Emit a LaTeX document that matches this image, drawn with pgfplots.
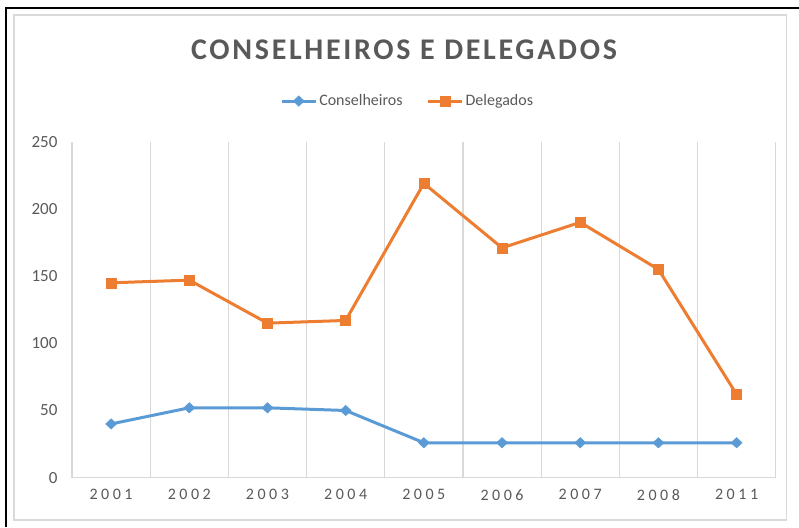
\documentclass[border=0pt]{standalone}
\usepackage{fontspec}
\setmainfont{Carlito}
\newfontfamily\titlefont[LetterSpace=9]{Carlito}
\newfontfamily\tickfont[LetterSpace=22]{Carlito}
\usepackage{pgfplots}
\pgfplotsset{compat=1.18}

\definecolor{cblue}{HTML}{5B9BD5}
\definecolor{corange}{HTML}{ED7D31}
\definecolor{txt}{HTML}{595959}
\definecolor{gridc}{HTML}{D9D9D9}

\begin{document}
\begin{tikzpicture}
\useasboundingbox (0,0) rectangle (799pt,527pt);
% page frame and chart area border
\draw[black, line width=1.6pt] (6pt,0) -- (6pt,519pt) -- (799pt,519pt);
\draw[gridc, line width=1.4pt] (14pt,7pt) rectangle (786.7pt,512pt);
\node[font=\titlefont\bfseries\fontsize{30}{34}\selectfont, text=txt] at (404pt,477pt) {CONSELHEIROS E DELEGADOS};

\begin{axis}[
at={(72pt,49.3pt)}, anchor=south west,
scale only axis, width=703.7pt, height=336pt,
xmin=-0.5, xmax=8.5, ymin=0, ymax=250,
xtick={0,...,8},
xticklabels={2001,2002,2003,2004,2005,2006,2007,2008,2011},
ytick={0,50,...,250},
major tick length=0pt,
axis line style={draw=none},
extra x ticks={-0.5,0.5,1.5,2.5,3.5,4.5,5.5,6.5,7.5,8.5}, extra x tick labels={},
extra x tick style={grid=major, major grid style={gridc, line width=1.2pt}},
extra y ticks={0}, extra y tick labels={},
extra y tick style={grid=major, major grid style={gridc, line width=1.2pt}},
/pgf/number format/assume math mode=true,
xticklabel style={font=\tickfont\fontsize{16}{18}\selectfont, text=txt, yshift=-8pt},
yticklabel style={font=\fontsize{17}{19}\selectfont, text=txt, xshift=-11pt},
legend columns=2,
legend style={draw=none, fill=none, at={(0.477,1.121)}, anchor=center,
  font=\fontsize{16}{18}\selectfont, text=txt,
  /tikz/every even column/.append style={column sep=22pt}},
legend image code/.code={\draw[#1, mark repeat=2, mark phase=2] plot coordinates {(0pt,0pt) (17pt,0pt) (34pt,0pt)};},
clip=false
]
\addplot[cblue, line width=3pt, mark=diamond*, mark size=5.2pt, mark options={xscale=1.4, line width=0.5pt}]
coordinates {(0,40)(1,52)(2,52)(3,50)(4,26)(5,26)(6,26)(7,26)(8,26)};
\addlegendentry{Conselheiros}
\addplot[corange, line width=3pt, mark=square*, mark size=5pt, mark options={line width=0.5pt}]
coordinates {(0,145)(1,147)(2,115)(3,117)(4,219)(5,171)(6,190)(7,155)(8,62)};
\addlegendentry{Delegados}
\end{axis}
\end{tikzpicture}
\end{document}
